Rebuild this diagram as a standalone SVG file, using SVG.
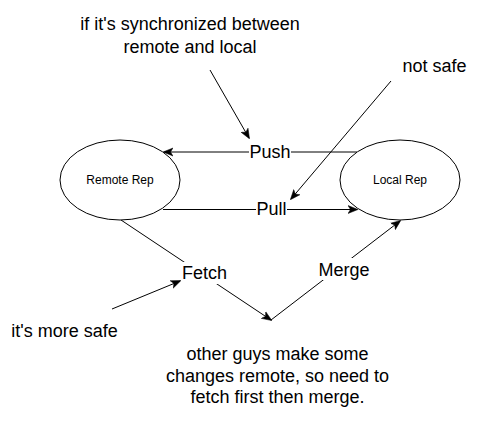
<svg xmlns="http://www.w3.org/2000/svg" width="481" height="441" viewBox="0 0 481 441">
<style>
text{font-family:"Liberation Sans",Arial,sans-serif;fill:#000;text-anchor:middle}
.big{font-size:18px}
.small{font-size:12px}
.node{fill:#fff;stroke:#000;stroke-width:1}
.edge{fill:none;stroke:#000;stroke-width:1;marker-end:url(#arr)}
.lbg{fill:#fff}
</style>
<defs>
<marker id="arr" markerUnits="userSpaceOnUse" markerWidth="10" markerHeight="10" viewBox="0 0 10 8" refX="9" refY="4" orient="auto">
<path d="M0,0 L10,4 L0,8 L2.5,4 z" fill="#000" stroke="#000" stroke-width="0.5"/>
</marker>
</defs>
<rect width="481" height="441" fill="#fff"/>
<g id="connectors">
<path class="edge" d="M357,152 L164,152"/>
<path class="edge" d="M163,209.5 L357,209.5"/>
<path class="edge" d="M121,220 L271,320"/>
<path class="edge" d="M271,320 L400,221"/>
<path class="edge" d="M210,70 L249,138"/>
<path class="edge" d="M391,81 L291,199"/>
<path class="edge" d="M112,309 L180,281"/>
<rect class="lbg" x="249" y="140" width="42" height="22"/>
<rect class="lbg" x="256" y="198" width="31" height="22"/>
<rect class="lbg" x="183" y="262" width="43" height="22"/>
<rect class="lbg" x="318" y="258" width="52" height="22"/>
<text class="big" x="270" y="158">Push</text>
<text class="big" x="271.5" y="215">Pull</text>
<text class="big" x="204.5" y="279">Fetch</text>
<text class="big" x="344" y="276">Merge</text>
</g>
<g id="remote">
<ellipse class="node" cx="120" cy="180" rx="60" ry="40"/>
<text class="small" x="120" y="184">Remote Rep</text>
</g>
<g id="local">
<ellipse class="node" cx="400" cy="180" rx="60" ry="40"/>
<text class="small" x="400" y="184">Local Rep</text>
</g>
<g id="note-sync">
<text class="big" x="190" y="30">if it's synchronized between</text>
<text class="big" x="190" y="53">remote and local</text>
</g>
<g id="note-notsafe">
<text class="big" x="434.5" y="72">not safe</text>
</g>
<g id="note-moresafe">
<text class="big" x="64.5" y="337">it's more safe</text>
</g>
<g id="note-other">
<text class="big" x="277.5" y="360">other guys make some</text>
<text class="big" x="277.5" y="382">changes remote, so need to</text>
<text class="big" x="277.5" y="403">fetch first then merge.</text>
</g>
</svg>
